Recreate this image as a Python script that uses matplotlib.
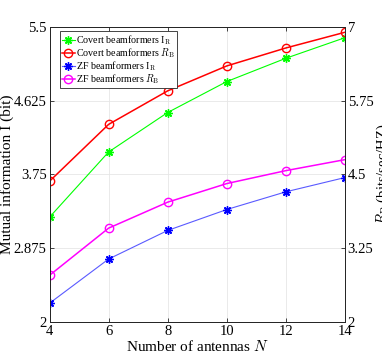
import numpy as np
import matplotlib.pyplot as plt

# datos
antenas = [4, 6, 8, 10, 12, 14]
covert_ir = [3.242, 4.015, 4.483, 4.850, 5.126, 5.370]   # eixo esquerdo (bit)
covert_rb = [4.383, 5.346, 5.914, 6.336, 6.640, 6.906]   # eixo direito (bits/sec/HZ)
zf_ir = [2.222, 2.746, 3.085, 3.333, 3.543, 3.712]
zf_rb = [2.790, 3.589, 4.029, 4.344, 4.563, 4.749]

ticks_esq = [2, 2.875, 3.75, 4.625, 5.5]
ticks_dir = [2, 3.25, 4.5, 5.75, 7]

plt.rcParams['font.family'] = ['Liberation Serif', 'DejaVu Serif']
plt.rcParams['mathtext.fontset'] = 'cm'

fig = plt.figure(figsize=(3.82, 3.63), dpi=100)
ax = fig.add_axes([0.1296, 0.113, 0.7734, 0.8134])
ax2 = ax.twinx()

asterisco = (8, 2, 0)
l1, = ax.plot(antenas, covert_ir, color='#00ff00', lw=0.8, marker=asterisco,
              ms=6, mew=1.0, label=r'Covert beamformers I$_{\rm R}$')
l3, = ax.plot(antenas, zf_ir, color='#5a5aff', lw=0.8, marker=asterisco,
              ms=6, mew=1.0, mec='#0000ff', label=r'ZF beamformers I$_{\rm R}$')
l2, = ax2.plot(antenas, covert_rb, color='#ff0000', lw=1.1, marker='o', ms=6,
               mfc='none', label=r'Covert beamformers $R_{\rm B}$')
l4, = ax2.plot(antenas, zf_rb, color='#ff00ff', lw=1.1, marker='o', ms=6,
               mfc='none', label=r'ZF beamformers $R_{\rm B}$')

ax.set_xlim(4, 14)
ax.set_ylim(2, 5.5)
ax2.set_ylim(2, 7)
ax.set_xticks(antenas)
ax.set_yticks(ticks_esq)
ax.set_yticklabels(['2', '2.875', '3.75', '4.625', '5.5'])
ax2.set_yticks(ticks_dir)
ax2.set_yticklabels(['2', '3.25', '4.5', '5.75', '7'])

ax.grid(True, color='#e6e6e6', lw=0.6)
ax.set_axisbelow(True)
for a in (ax, ax2):
    for s in a.spines.values():
        s.set_color('#262626')
        s.set_linewidth(0.7)
    a.tick_params(direction='in', length=3, width=0.6, colors='#262626',
                  labelsize=10.5, labelcolor='black', pad=2)
ax.tick_params(top=True)

ax.set_xlabel(r'Number of antennas $N$', fontsize=11, labelpad=1)
ax.set_ylabel('Mutual information I (bit)', fontsize=11, labelpad=0)
ax2.set_ylabel(r'$R_{\rm B}$ (bits/sec/HZ)', fontsize=10.5, rotation=90,
               labelpad=1)

leg = ax2.legend(handles=[l1, l2, l3, l4], loc='upper left', fontsize=7.2,
                 frameon=True, fancybox=False, edgecolor='#262626',
                 framealpha=1, borderpad=0.2, labelspacing=-0.05,
                 handlelength=1.3, handletextpad=0.15, borderaxespad=0,
                 bbox_to_anchor=(0.035, 0.985))
leg.get_frame().set_linewidth(0.6)

plt.savefig('out.png', dpi=100)
